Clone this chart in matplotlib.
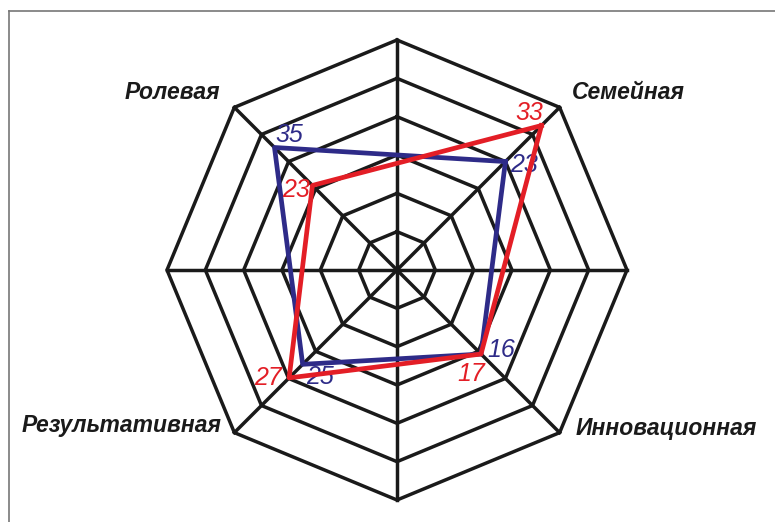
import numpy as np
import matplotlib
matplotlib.use("Agg")
import matplotlib.pyplot as plt
from matplotlib.lines import Line2D

plt.rcParams['font.family'] = ['Liberation Sans', 'DejaVu Sans']

# axes go clockwise from the top, only the diagonals carry a name
axis_names = ["", "Семейная", "", "Инновационная", "", "Результативная", "", "Ролевая"]
n_rings = 6

# radius of each point in ring units, diagonal axes NE, SE, SW, NW
diag_angles_deg = [45, 135, 225, 315]
blue_r = [4.0, 3.1, 3.48, 4.52]
red_r = [5.33, 3.1, 3.98, 3.12]
blue_labels = ["23", "16", "25", "35"]
red_labels = ["33", "17", "27", "23"]

# label offsets in pixels from the point
blue_offsets = [(19, -3), (20, 4), (17, -13), (15, 12)]
red_offsets = [(-12, 13), (-10, -20), (-21, 0), (-16, -5)]
name_offsets = {"Семейная": (69, 15), "Инновационная": (107, 4),
                "Результативная": (-113, 7), "Ролевая": (-62, 15)}

BLUE = "#2e2b88"
RED = "#e31e26"

W, H = 775, 522
fig = plt.figure(figsize=(W / 100, H / 100), dpi=100)
cx, cy, R = 397, 270, 230
ax = fig.add_axes([(cx - R) / W, (H - cy - R) / H, 2 * R / W, 2 * R / H], projection="polar")
ax.set_theta_zero_location("N")
ax.set_theta_direction(-1)
ax.set_ylim(0, n_rings)
ax.grid(False)
ax.set_xticks([])
ax.set_yticks([])
ax.spines["polar"].set_visible(False)
ax.patch.set_alpha(0)

angles = np.deg2rad(np.arange(8) * 45)
closed = np.append(angles, angles[0])

# octagon rings and spokes
for k in range(1, n_rings + 1):
    ax.plot(closed, [k] * len(closed), color="#1a1a1a", lw=2.5, clip_on=False,
            solid_joinstyle="miter")
for a in angles:
    ax.plot([a, a], [0, n_rings], color="#1a1a1a", lw=2.5, clip_on=False)

diag = np.deg2rad(diag_angles_deg)
diag_closed = np.append(diag, diag[0])
ax.plot(diag_closed, blue_r + blue_r[:1], color=BLUE, lw=3.4, clip_on=False, zorder=3)
ax.plot(diag_closed, red_r + red_r[:1], color=RED, lw=3.4, clip_on=False, zorder=4)

for a, r, lab, off in zip(diag, blue_r, blue_labels, blue_offsets):
    ax.annotate(lab, (a, r), xytext=off, textcoords="offset pixels", ha="center", va="center",
                color=BLUE, fontsize=18, style="italic", annotation_clip=False)
for a, r, lab, off in zip(diag, red_r, red_labels, red_offsets):
    ax.annotate(lab, (a, r), xytext=off, textcoords="offset pixels", ha="center", va="center",
                color=RED, fontsize=18, style="italic", annotation_clip=False)

for a, name in zip(angles, axis_names):
    if name:
        ax.annotate(name, (a, n_rings), xytext=name_offsets[name], textcoords="offset pixels",
                    ha="center", va="center", fontsize=16.5, fontweight="bold", style="italic",
                    color="#1a1a1a", annotation_clip=False)

# thin frame on the top and left of the picture
fig.add_artist(Line2D([9 / W, 1], [1 - 11 / H, 1 - 11 / H], color="#777777", lw=1.2))
fig.add_artist(Line2D([9 / W, 9 / W], [0, 1 - 11 / H], color="#777777", lw=1.2))

fig.savefig("out.png", dpi=100)
